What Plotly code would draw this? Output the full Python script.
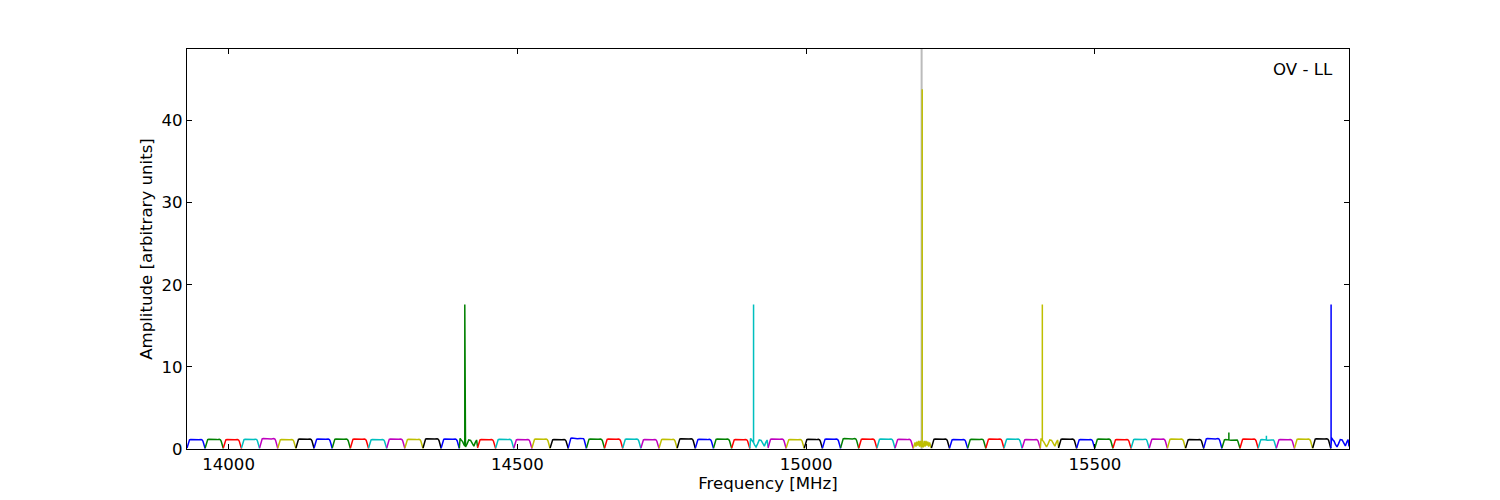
import plotly.graph_objects as go
import numpy as np

# ---- data ----
freq_start = 13928.0          # MHz, left end of the first sub-band
freq_stop = 15940.0           # MHz, right end of the last sub-band
n_subbands = 64
color_cycle = ["#0000ff", "#008000", "#ff0000", "#00bfbf", "#bf00bf", "#bfbf00", "#000000"]

# normalised bandpass shape of one sub-band (position within band, amplitude)
band_pos = [0.00, 0.03, 0.06, 0.10, 0.14, 0.20, 0.35, 0.50, 0.65, 0.78, 0.84, 0.88,
            0.92, 0.96, 1.00]
band_val = [0.12, 0.40, 0.75, 1.00, 1.12, 1.16, 1.12, 1.08, 1.12, 1.16, 1.10, 0.95,
            0.65, 0.30, 0.05]

# per sub-band level (amplitude scale)
band_level = [1.00, 1.02, 1.00, 1.03, 1.10, 1.00, 1.05,
              1.05, 1.05, 1.05, 1.00, 1.05, 1.02, 1.08,
              1.05, 1.00, 1.00, 1.02, 1.00, 1.05, 1.00,
              1.15, 1.05, 1.05, 1.05, 1.00, 1.02, 1.08,
              1.02, 1.05, 1.00, 1.00, 1.05, 1.00, 1.02,
              1.05, 1.10, 1.05, 1.05, 1.02, 1.00, 1.05,
              1.00, 1.03, 1.05, 1.05, 1.00, 1.00, 1.05,
              1.00, 1.05, 1.00, 1.03, 1.05, 1.05, 1.00,
              1.10, 1.00, 1.05, 1.00, 1.00, 1.05, 1.08, 1.05]

# sub-bands hit by RFI: disturbed shape following a spike at the band start
rfi_bands = [15, 31, 47, 63]
rfi_pos = [0.00, 0.04, 0.10, 0.18, 0.26, 0.34, 0.42, 0.52, 0.62, 0.72, 0.80, 0.88, 0.95, 1.00]
rfi_val = [0.10, 1.30, 1.10, 0.90, 0.50, 0.25, 0.60, 1.10, 1.05, 0.60, 0.35, 0.80, 1.10, 0.30]

# main line sub-band (noisy, thick looking)
main_band = 40
main_pos = [0.00, 0.05, 0.10, 0.15, 0.20, 0.25, 0.30, 0.35, 0.40, 0.45, 0.50, 0.55,
            0.60, 0.65, 0.70, 0.75, 0.80, 0.85, 0.90, 0.95, 1.00]
main_val = [0.10, 0.40, 0.80, 0.30, 0.90, 0.40, 1.00, 0.30, 1.00, 0.20, 0.60, 0.20,
            1.00, 0.30, 1.00, 0.40, 0.90, 0.30, 0.80, 0.40, 0.10]

# narrow spikes (frequency in MHz, amplitude)
spike_freq = [14409.0, 14909.0, 15201.0, 15409.0, 15909.0, 15732.0, 15797.0]
spike_amp = [17.6, 17.6, 43.8, 17.6, 17.6, 2.0, 1.6]

marker_freq = 15200.0        # grey reference line
x_ticks = [14000, 14500, 15000, 15500]
y_ticks = [0, 10, 20, 30, 40]
y_max = 48.7

# ---- build figure ----
fig = go.Figure()
width = (freq_stop - freq_start) / n_subbands

fig.add_vline(x=marker_freq, line=dict(color="#bbbbbb", width=2), layer="below")

for i in range(n_subbands):
    lo = freq_start + i * width
    hi = lo + width
    if i in rfi_bands:
        pos, val = rfi_pos, rfi_val
    elif i == main_band:
        pos, val = main_pos, main_val
    else:
        pos, val = band_pos, band_val
    xs = [lo + p * width for p in pos]
    ys = [band_level[i] * v for v in val]
    pts = list(zip(xs, ys))
    for f, a in zip(spike_freq, spike_amp):
        if lo <= f < hi:
            base = float(np.interp(f, xs, ys))
            pts += [(f - 0.02, base), (f, a), (f + 0.02, base)]
    pts.sort(key=lambda t: t[0])
    fig.add_trace(go.Scatter(
        x=[p[0] for p in pts], y=[p[1] for p in pts], mode="lines",
        line=dict(color=color_cycle[i % 7], width=1.5),
        showlegend=False, hoverinfo="skip"))

font = dict(family="DejaVu Sans", size=16.6, color="black")
axis_common = dict(showgrid=False, zeroline=False, showline=True, linecolor="black",
                   linewidth=1, mirror="allticks", ticks="inside", ticklen=5,
                   tickcolor="black", tickfont=font)

fig.update_layout(
    width=1500, height=500,
    margin=dict(l=179, r=159, t=41, b=59),
    paper_bgcolor="white", plot_bgcolor="white",
    font=font,
    xaxis=dict(range=[freq_start, freq_stop], tickvals=x_ticks,
               ticktext=[str(t) for t in x_ticks],
               title=dict(text="Frequency [MHz]", font=font, standoff=0),
               **axis_common),
    yaxis=dict(range=[0, y_max], tickvals=y_ticks,
               ticktext=[str(t) for t in y_ticks],
               title=dict(text="Amplitude [arbitrary units]", font=font, standoff=4),
               **axis_common),
    annotations=[dict(text="OV - LL", xref="paper", yref="paper", x=0.988, y=0.948,
                      xanchor="right", yanchor="middle", showarrow=False, font=font)],
)

fig.write_html("out.html")
